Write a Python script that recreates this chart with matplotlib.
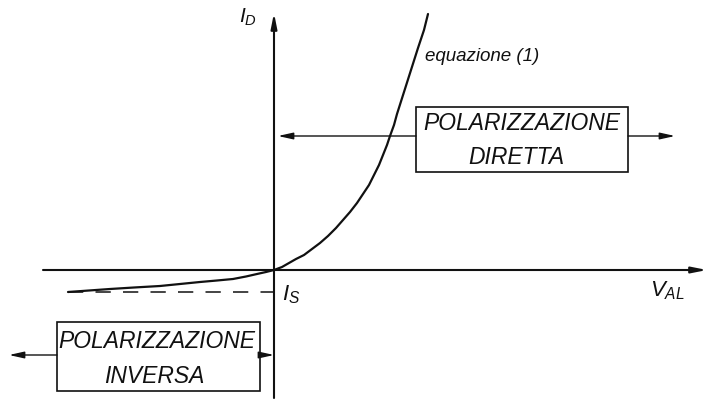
import matplotlib.pyplot as plt
from matplotlib.patches import Rectangle

plt.rcParams["font.family"] = ["Liberation Sans", "DejaVu Sans"]
plt.rcParams["mathtext.fontset"] = "custom"
plt.rcParams["mathtext.it"] = "Liberation Sans:italic"
plt.rcParams["mathtext.rm"] = "Liberation Sans"

# diode characteristic I_D(V_AL), arbitrary units, origin at the axes crossing
v_rev = [-206, -185, -164, -140, -114, -94, -74, -57, -41, -28, -17, -8, 0]
i_rev = [-22, -20.5, -19, -17.5, -16, -14, -12, -10.5, -9, -6.5, -4, -2, 0]
v_fwd = [0, 8, 15, 22, 30, 38, 46, 54, 62, 69, 76, 83, 89, 95, 100,
         105, 109, 113, 116, 120, 123, 130, 137, 144, 150, 154]
i_fwd = [0, 3, 7, 11, 15, 21, 27, 34, 42, 50, 58, 67, 76, 85, 95,
         105, 115, 125, 134, 145, 156, 178, 200, 222, 240, 256]
i_sat = -22

axis_labels = ["$I_D$", "$V_{AL}$", "$I_S$"]
curve_label = "equazione (1)"
box_direct = ["POLARIZZAZIONE", "DIRETTA"]
box_reverse = ["POLARIZZAZIONE", "INVERSA"]

fig = plt.figure(figsize=(7.12, 4.02), dpi=100)
ax = fig.add_axes([0, 0, 1, 1])
ax.set_xlim(-274, 438)
ax.set_ylim(-131, 271)
ax.axis("off")

lc = "#111111"
axis_arrow = dict(arrowstyle="-|>,head_length=0.9,head_width=0.18", color=lc, lw=1.5,
                  shrinkA=0, shrinkB=0)
thin_arrow = dict(arrowstyle="-|>,head_length=0.9,head_width=0.2", color=lc, lw=1.0,
                  shrinkA=0, shrinkB=0)

# axes with arrow heads
ax.annotate("", xy=(433, 0), xytext=(-231, 0), arrowprops=axis_arrow)
ax.annotate("", xy=(0, 257), xytext=(0, -128), arrowprops=axis_arrow)

# saturation current level
ax.plot([v_rev[0], 0], [i_sat, i_sat], color=lc, lw=1.1, dashes=(10, 8))

# characteristic
ax.plot(v_rev + v_fwd[1:], i_rev + i_fwd[1:], color=lc, lw=1.6,
        solid_capstyle="round", solid_joinstyle="round")

ital = dict(style="italic", color=lc)
ax.text(-26, 254, axis_labels[0], fontsize=15, ha="center", va="center", **ital)
ax.text(393, -20, axis_labels[1], fontsize=16, ha="center", va="center", **ital)
ax.text(8, -24, axis_labels[2], fontsize=16, ha="left", va="center", **ital)
ax.text(151, 214, curve_label, fontsize=13.5, ha="left", va="center", **ital)

# forward bias box with arrows
ax.add_patch(Rectangle((142, 98), 212, 65, fill=False, ec=lc, lw=1.2))
ax.text(248, 147, box_direct[0], fontsize=16.5, ha="center", va="center", **ital)
ax.text(242, 113, box_direct[1], fontsize=16.5, ha="center", va="center", **ital)
ax.annotate("", xy=(401, 134), xytext=(354, 134), arrowprops=thin_arrow)
ax.annotate("", xy=(4, 134), xytext=(142, 134), arrowprops=thin_arrow)

# reverse bias box with arrows
ax.add_patch(Rectangle((-217, -121), 203, 69, fill=False, ec=lc, lw=1.2))
ax.text(-117, -71, box_reverse[0], fontsize=16.5, ha="center", va="center", **ital)
ax.text(-120, -106, box_reverse[1], fontsize=16.5, ha="center", va="center", **ital)
ax.annotate("", xy=(-265, -85), xytext=(-217, -85), arrowprops=thin_arrow)
ax.annotate("", xy=(0, -85), xytext=(-14, -85), arrowprops=thin_arrow)

fig.savefig("out.png", dpi=100)
